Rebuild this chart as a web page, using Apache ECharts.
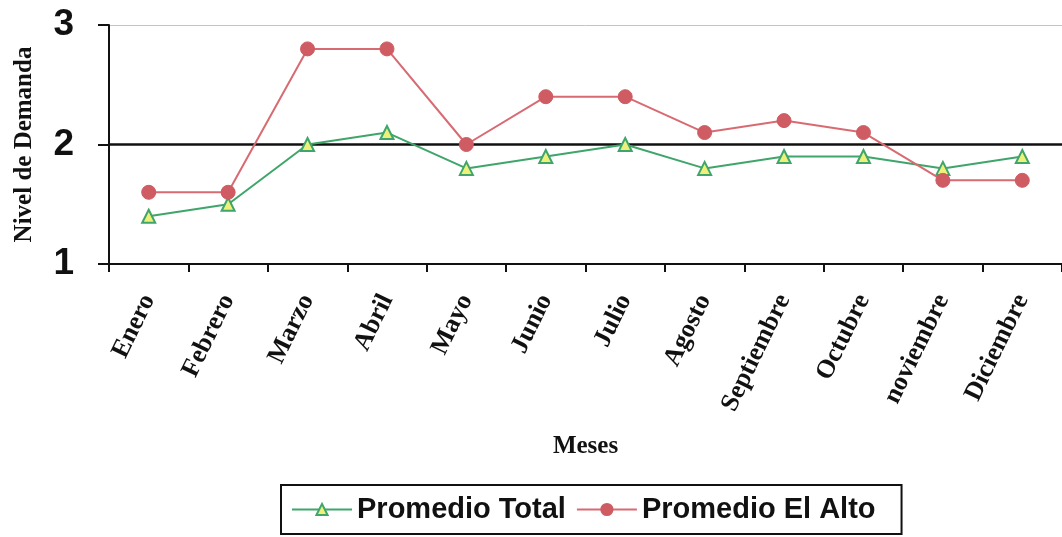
<!DOCTYPE html>
<html><head><meta charset="utf-8">
<script src="https://cdn.jsdelivr.net/npm/echarts@6/dist/echarts.min.js"></script>
<style>html,body{margin:0;padding:0;background:#fff}#c{width:1062px;height:537px}</style>
</head><body><div id="c"></div>
<script>
const categories = ['Enero','Febrero','Marzo','Abril','Mayo','Junio','Julio','Agosto','Septiembre','Octubre','noviembre','Diciembre'];
const promedioTotal = [1.4, 1.5, 2.0, 2.1, 1.8, 1.9, 2.0, 1.8, 1.9, 1.9, 1.8, 1.9];
const promedioElAlto = [1.6, 1.6, 2.8, 2.8, 2.0, 2.4, 2.4, 2.1, 2.2, 2.1, 1.7, 1.7];
const yTicks = [1, 2, 3];

const serif = 'Liberation Serif';
const sans = 'Liberation Sans';
const chart = echarts.init(document.getElementById('c'), null, {renderer:'canvas'});
chart.setOption({
  animation:false,
  backgroundColor:'#fff',
  grid:{left:109, right:-4, top:25, bottom:273, containLabel:false},
  legend:{
    left:281, top:485, orient:'horizontal',
    padding:[10,26,10,10], itemGap:10, itemWidth:60, itemHeight:14,
    borderColor:'#111', borderWidth:2, backgroundColor:'#fff',
    textStyle:{fontFamily:sans, fontWeight:'bold', fontSize:29, color:'#111'},
    data:['Promedio Total','Promedio El Alto']
  },
  xAxis:{
    type:'category', data:categories, boundaryGap:true,
    name:'Meses', nameLocation:'middle', nameGap:170,
    nameTextStyle:{fontFamily:serif, fontWeight:'bold', fontSize:25, color:'#111'},
    axisLine:{lineStyle:{color:'#111', width:2}},
    axisTick:{show:true, length:8, lineStyle:{color:'#111', width:2}},
    axisLabel:{rotate:64, margin:32, fontFamily:serif, fontWeight:'bold', fontSize:26, color:'#111', interval:0},
    splitLine:{show:false}
  },
  yAxis:{
    type:'value', min:yTicks[0], max:yTicks[yTicks.length-1], interval:1,
    name:'Nivel de Demanda', nameLocation:'middle', nameGap:72, nameRotate:90,
    nameTextStyle:{fontFamily:serif, fontWeight:'bold', fontSize:25, color:'#111'},
    axisLine:{show:true, lineStyle:{color:'#111', width:2}},
    axisTick:{show:true, length:11, lineStyle:{color:'#111', width:2}},
    axisLabel:{margin:35, fontFamily:sans, fontWeight:'bold', fontSize:37, color:'#111'},
    splitLine:{show:true, lineStyle:{color:'#c4c4c4', width:1}}
  },
  series:[
    {
      name:'Promedio Total', type:'line', data:promedioTotal,
      symbol:'triangle', symbolSize:13, z:3,
      lineStyle:{color:'#3fa56a', width:2},
      itemStyle:{color:'#eef07a', borderColor:'#3fa56a', borderWidth:2},
      markLine:{silent:true, symbol:'none', label:{show:false},
        lineStyle:{color:'#111', width:2.5, type:'solid'},
        data:[{yAxis:2}], z:1}
    },
    {
      name:'Promedio El Alto', type:'line', data:promedioElAlto,
      symbol:'circle', symbolSize:14, z:4,
      lineStyle:{color:'#d86a72', width:2},
      itemStyle:{color:'#cf5b63', borderColor:'#cf5b63', borderWidth:1}
    }
  ]
});
</script></body></html>
